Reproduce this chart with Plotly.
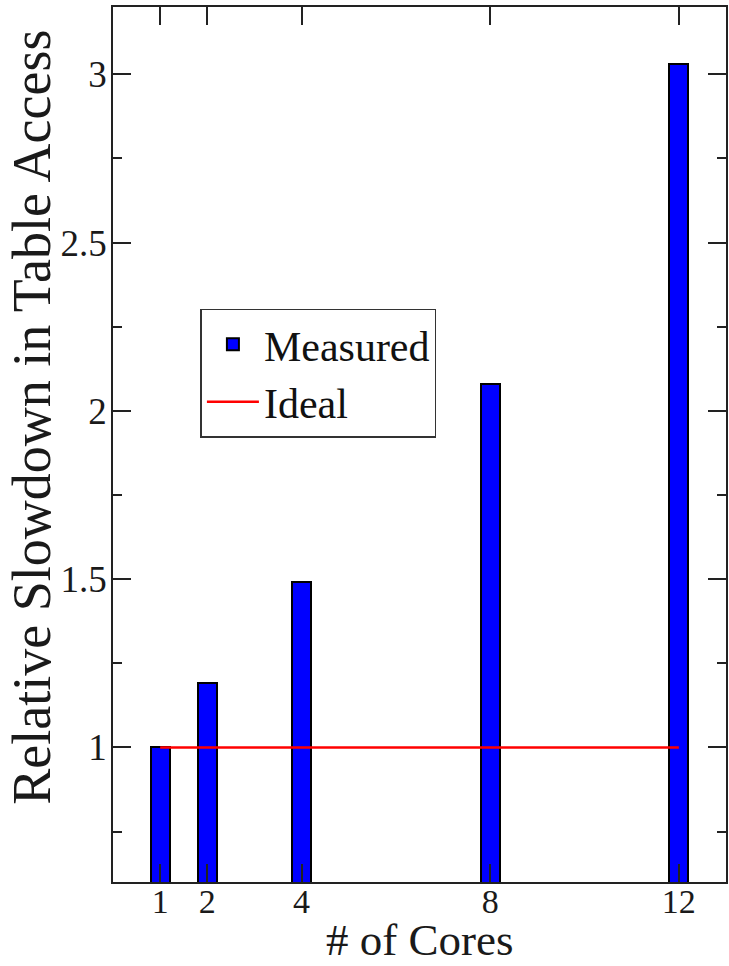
import plotly.graph_objects as go

cores = [1, 2, 4, 8, 12]
measured = [1.0, 1.19, 1.49, 2.08, 3.03]
ideal_x = [1, 12]
ideal_y = [1, 1]
x_ticks = [1, 2, 4, 8, 12]
y_title = "Relative Slowdown in Table Access"
x_title = "# of Cores"

FONT = "Liberation Serif"

fig = go.Figure()
fig.add_trace(go.Bar(
    x=cores, y=measured, width=0.4, name="Measured",
    marker=dict(color="#0000ff", line=dict(color="black", width=2)),
))
fig.add_trace(go.Scatter(
    x=ideal_x, y=ideal_y, mode="lines", name="Ideal",
    line=dict(color="#ff0000", width=2.5),
))

fig.update_layout(
    width=729, height=966,
    margin=dict(l=113, r=1, t=7, b=84),
    paper_bgcolor="white", plot_bgcolor="white",
    font=dict(family=FONT, color="#1a1a1a"),
    showlegend=True,
    legend=dict(
        x=0.1426, y=0.655, xanchor="left", yanchor="top",
        bgcolor="white", bordercolor="#333", borderwidth=1.5,
        font=dict(family=FONT, size=42, color="#111"),
        tracegroupgap=0, itemwidth=52,
    ),
    bargap=0,
    annotations=[
        dict(
            text=y_title, textangle=-90, xref="paper", yref="paper",
            x=-0.1317, y=0.531, xanchor="center", yanchor="middle",
            showarrow=False, font=dict(family=FONT, size=54, color="#1a1a1a"),
        ),
        dict(
            text=x_title, xref="paper", yref="paper",
            x=0.5, y=-0.0955, xanchor="center", yanchor="bottom",
            showarrow=False, font=dict(family=FONT, size=45, color="#1a1a1a"),
            borderpad=0,
        ),
    ],
)
fig.update_xaxes(
    range=[0, 13], tickmode="array", tickvals=x_ticks,
    ticks="inside", ticklen=18, tickwidth=1.5, tickcolor="#222",
    showline=True, linecolor="#222", linewidth=1.8, mirror="ticks",
    showgrid=False, zeroline=False,
    tickfont=dict(size=34), ticklabelstandoff=-12,
)
fig.update_yaxes(
    range=[0.6, 3.2], dtick=0.5, tick0=1,
    ticks="inside", ticklen=18, tickwidth=1.5, tickcolor="#222",
    minor=dict(dtick=0.25, tick0=0.75, ticks="inside", ticklen=9, tickwidth=1.5, tickcolor="#222"),
    showline=True, linecolor="#222", linewidth=1.8, mirror="ticks",
    showgrid=False, zeroline=False,
    tickfont=dict(size=37), ticklabelstandoff=-3,
)

fig.write_html("out.html")
